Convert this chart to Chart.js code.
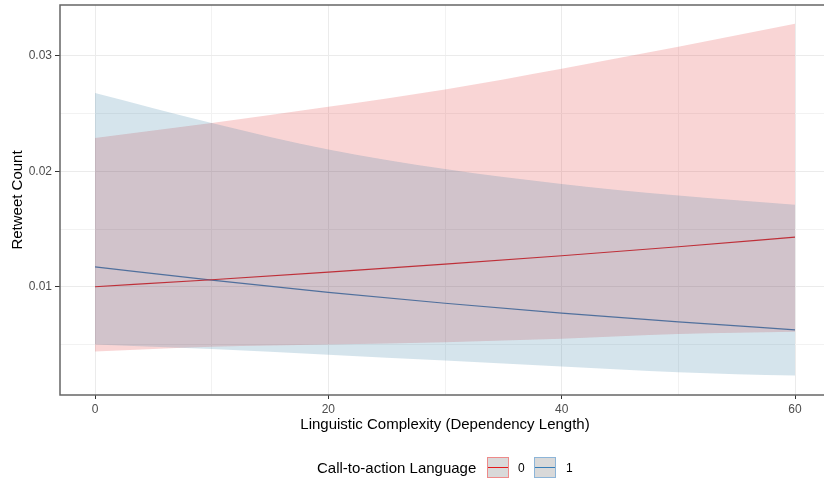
<!DOCTYPE html>
<html>
<head>
<meta charset="utf-8">
<script src="https://cdn.jsdelivr.net/npm/chart.js@4/dist/chart.umd.min.js"></script>
<style>
  body { margin: 0; background: #fff; overflow: hidden; font-family: "Liberation Sans", Arial, sans-serif; }
  #wrap { position: relative; width: 832px; height: 481px; }
  .lg { position: absolute; line-height: 1; color: #000; }
  .key { position: absolute; top: 457px; width: 20px; height: 19px; background: #D9D9D9; }
  .key i { position: absolute; left: 0; right: 0; top: 9px; height: 1.2px; }
</style>
</head>
<body>
<div id="wrap">
  <canvas id="CHART" width="832" height="481"></canvas>
  <span class="lg" style="left:317px; top:460px; font-size:15px;">Call-to-action Language</span>
  <div class="key" style="left:487px; border:1.5px solid #EE8A8A;"><i style="background:#E41A1C"></i></div>
  <span class="lg" style="left:518px; top:462px; font-size:12px;">0</span>
  <div class="key" style="left:534px; border:1.5px solid #8DB5D8;"><i style="background:#377EB8"></i></div>
  <span class="lg" style="left:566px; top:462px; font-size:12px;">1</span>
</div>
<script>
// 의존 길이(x) 별 예측값 + 신뢰구간
const complexity = [0, 10, 20, 30, 40, 50, 60];

// 그룹 0 (Call-to-action 없음)
const fit0   = [0.0100, 0.01061, 0.01127, 0.01196, 0.01269, 0.01347, 0.0143];
const lower0 = [0.0044, 0.0048, 0.0050, 0.0052, 0.0055, 0.0059, 0.0061];
const upper0 = [0.0229, 0.0242, 0.0256, 0.0271, 0.0289, 0.0308, 0.0328];

// 그룹 1 (Call-to-action 있음)
const fit1   = [0.01173, 0.01057, 0.00952, 0.00857, 0.00772, 0.00696, 0.00627];
const lower1 = [0.0050, 0.0046, 0.0041, 0.0036, 0.0031, 0.0026, 0.0023];
const upper1 = [0.0268, 0.0242, 0.0219, 0.0202, 0.0189, 0.0179, 0.0171];

// 축 눈금
const xMajor = [0, 20, 40, 60];
const xMinor = [10, 30, 50];
const yMajor = [0.01, 0.02, 0.03];
const yMinor = [0.005, 0.015, 0.025];

const toPoints = (ys) => complexity.map((x, i) => ({ x: x, y: ys[i] }));
const isMajor = (list, v) => list.some(m => Math.abs(m - v) < 1e-9);

const FONT = "'Liberation Sans', Arial, sans-serif";

// 패널 테두리 (ggplot theme_bw 스타일)
const panelBorder = {
  id: 'panelBorder',
  afterDatasetsDraw(chart) {
    const { ctx, chartArea: a } = chart;
    ctx.save();
    ctx.strokeStyle = '#666';
    ctx.lineWidth = 1.5;
    ctx.strokeRect(a.left, a.top, a.right - a.left, a.bottom - a.top);
    ctx.restore();
  }
};

const ribbon = (data, color, fill) => ({
  data: toPoints(data),
  borderWidth: 0,
  pointRadius: 0,
  backgroundColor: color,
  fill: fill,
  cubicInterpolationMode: 'monotone'
});

const fitLine = (data, color) => ({
  data: toPoints(data),
  borderColor: color,
  borderWidth: 1.2,
  pointRadius: 0,
  fill: false,
  cubicInterpolationMode: 'monotone'
});

const config = {
  type: 'line',
  data: {
    datasets: [
      ribbon(lower1, 'rgba(45,120,160,0.2)', false),
      ribbon(upper1, 'rgba(45,120,160,0.2)', '-1'),
      ribbon(lower0, 'rgba(225,45,45,0.2)', false),
      ribbon(upper0, 'rgba(225,45,45,0.2)', '-1'),
      fitLine(fit0, '#E41A1C'),
      fitLine(fit1, '#377EB8')
    ]
  },
  options: {
    responsive: false,
    animation: false,
    devicePixelRatio: 1,
    layout: { padding: { top: 5, right: 2, left: 0, bottom: 41 } },
    plugins: {
      legend: { display: false },
      tooltip: { enabled: false }
    },
    scales: {
      x: {
        type: 'linear',
        min: -3,
        max: 63,
        afterBuildTicks(scale) {
          scale.ticks = xMajor.concat(xMinor).sort((a, b) => a - b).map(v => ({ value: v }));
        },
        afterFit(scale) {
          scale.height = 45;
          scale.paddingLeft = 0;
          scale.paddingRight = 0;
        },
        border: { display: false },
        grid: {
          color: (c) => isMajor(xMajor, c.tick.value) ? '#EBEBEB' : '#F2F2F2',
          tickColor: (c) => isMajor(xMajor, c.tick.value) ? '#333' : 'rgba(0,0,0,0)',
          tickLength: 4,
          drawTicks: true
        },
        ticks: {
          autoSkip: false,
          maxRotation: 0,
          padding: 3,
          color: '#4D4D4D',
          font: { family: FONT, size: 12 },
          callback: (v) => isMajor(xMajor, v) ? String(v) : ''
        },
        title: {
          display: true,
          text: 'Linguistic Complexity (Dependency Length)',
          color: '#000',
          font: { family: FONT, size: 15 },
          padding: { top: 0, bottom: 6 }
        }
      },
      y: {
        type: 'linear',
        min: 0.00062,
        max: 0.03442,
        afterBuildTicks(scale) {
          scale.ticks = yMajor.concat(yMinor).sort((a, b) => a - b).map(v => ({ value: v }));
        },
        afterFit(scale) {
          scale.width = 60;
          scale.paddingTop = 0;
          scale.paddingBottom = 0;
        },
        border: { display: false },
        grid: {
          color: (c) => isMajor(yMajor, c.tick.value) ? '#EBEBEB' : '#F2F2F2',
          tickColor: (c) => isMajor(yMajor, c.tick.value) ? '#333' : 'rgba(0,0,0,0)',
          tickLength: 5,
          drawTicks: true
        },
        ticks: {
          autoSkip: false,
          padding: 3,
          color: '#4D4D4D',
          font: { family: FONT, size: 12 },
          callback: (v) => isMajor(yMajor, v) ? v.toFixed(2) : ''
        },
        title: {
          display: true,
          text: 'Retweet Count',
          color: '#000',
          font: { family: FONT, size: 15 },
          padding: { top: 9, bottom: 0 }
        }
      }
    }
  },
  plugins: [panelBorder]
};

const myChart = new Chart(document.getElementById('CHART'), config);
</script>
</body>
</html>
